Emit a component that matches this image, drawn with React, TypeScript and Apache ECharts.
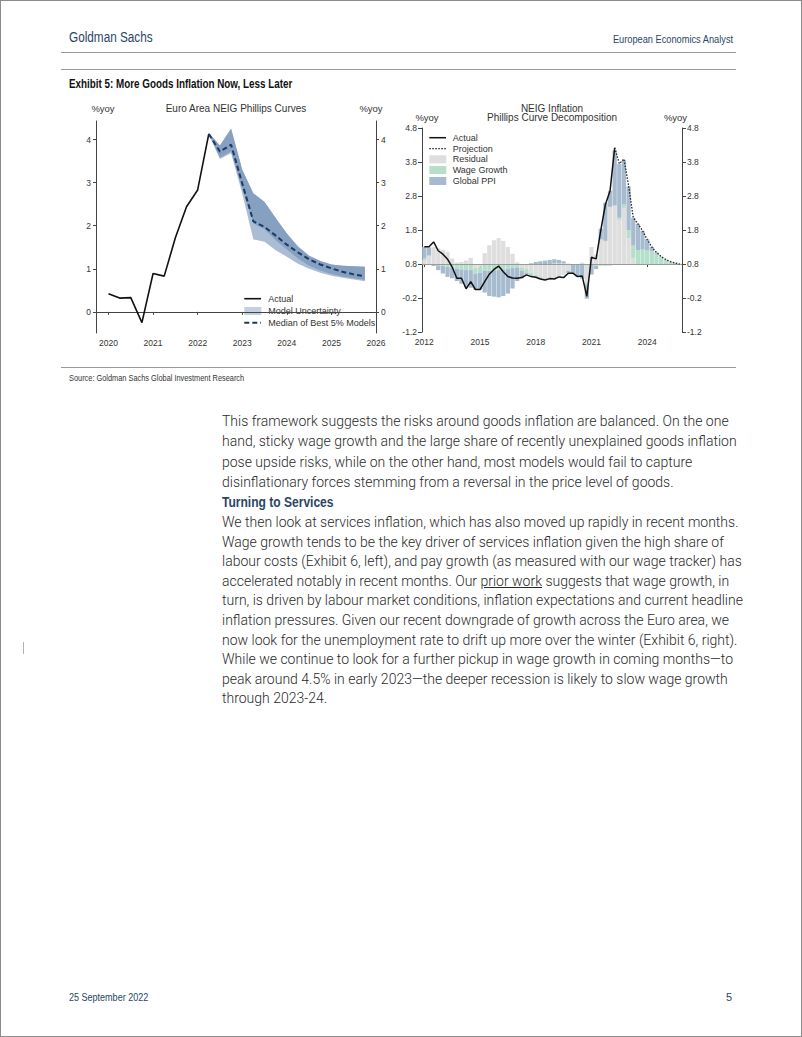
import React, { useEffect, useRef } from "react";
import * as echarts from "echarts";

// ---------------- Left chart: Euro Area NEIG Phillips Curves ----------------
const L_ACT_T = [2020, 2020.25, 2020.5, 2020.75, 2021, 2021.25, 2021.5, 2021.75, 2022, 2022.25];
const L_ACTUAL = [0.42, 0.32, 0.33, -0.25, 0.89, 0.83, 1.72, 2.44, 2.83, 4.13];
const L_PROJ_T = [2022.25, 2022.5, 2022.75, 2023, 2023.25, 2023.5, 2023.75, 2024, 2024.25, 2024.5, 2024.75, 2025, 2025.25, 2025.5, 2025.75];
const L_MEDIAN = [4.13, 3.72, 3.88, 2.98, 2.1, 1.97, 1.77, 1.56, 1.38, 1.22, 1.1, 1.01, 0.93, 0.87, 0.83];
const L_UPPER = [4.15, 3.86, 4.25, 3.3, 2.75, 2.55, 2.18, 1.82, 1.52, 1.3, 1.18, 1.1, 1.07, 1.06, 1.05];
const L_LOWER = [4.12, 3.55, 3.68, 2.75, 1.68, 1.63, 1.43, 1.28, 1.12, 1.0, 0.91, 0.84, 0.79, 0.75, 0.71];
const L_INNER_LOWER = [4.12, 3.58, 3.72, 2.85, 2.05, 1.92, 1.66, 1.45, 1.24, 1.07, 0.96, 0.88, 0.82, 0.78, 0.74];
const L_X_TICKS = [2020, 2021, 2022, 2023, 2024, 2025, 2026];
const L_Y_TICKS = [0, 1, 2, 3, 4];

// ---------------- Right chart: NEIG Inflation decomposition ----------------
const R_YEARS = [2012, 2013, 2014, 2015, 2016, 2017, 2018, 2019, 2020, 2021, 2022, 2023, 2024, 2025];
const R_QTRS = ["Q1", "Q2", "Q3", "Q4"];
const R_LABEL_YEARS = [2012, 2015, 2018, 2021, 2024];
const R_BASELINE = 0.8;
const R_Y_TICKS = [-1.2, -0.2, 0.8, 1.8, 2.8, 3.8, 4.8];
const R_ACTUAL = [
  1.31, 1.31, 1.45, 1.19, 1.09, 0.94, 0.71, 0.38, 0.38, 0.07, 0.28, 0.05,
  0.05, 0.28, 0.5, 0.64, 0.74, 0.57, 0.43, 0.39, 0.38, 0.4, 0.48, 0.43,
  0.41, 0.36, 0.33, 0.37, 0.36, 0.42, 0.4, 0.53, 0.53, 0.43, 0.45, -0.15,
  1.0, 0.95, 1.78, 2.55, 2.95, 4.22,
];
const R_PROJECTION = [4.22, 3.75, 3.89, 3.1, 2.17, 1.98, 1.78, 1.52, 1.3, 1.14, 1.02, 0.93, 0.87, 0.83, 0.8];
const R_RESIDUAL = [
  0.12, 0.22, 0.5, 0.46, 0.42, 0.36, 0.16, 0.04, 0.06, 0.1, 0.18, -0.12,
  -0.08, 0.32, 0.55, 0.7, 0.76, 0.68, 0.5, 0.3, 0.05, -0.1, -0.15, -0.25,
  -0.32, -0.38, -0.42, -0.44, -0.45, -0.4, -0.32, -0.2, -0.02, 0.0, 0.04, -0.55,
  0.5, 0.28, 0.72, 0.68, 1.68, 1.7, 1.3, 1.65, 0.75, 0.18, 0, 0,
  0, 0, 0, 0, 0, 0, 0, 0,
];
const R_WAGE = [
  0.04, 0.03, -0.02, -0.04, -0.06, -0.08, -0.1, -0.14, -0.16, -0.18, -0.18, -0.16,
  -0.18, -0.2, -0.2, -0.18, -0.18, -0.16, -0.15, -0.12, -0.1, -0.1, -0.1, -0.1,
  -0.08, -0.07, -0.05, -0.03, 0.02, 0.02, 0.02, 0.01, 0.0, -0.02, -0.03, -0.05,
  -0.03, -0.05, -0.05, -0.05, -0.05, 0.02, 0.06, 0.1, 0.25, 0.36, 0.4, 0.42,
  0.41, 0.37, 0.3, 0.2, 0.12, 0.06, 0.03, 0.01,
];
const R_PPI = [
  0.34, 0.24, -0.04, -0.14, -0.22, -0.3, -0.32, -0.36, -0.42, -0.5, -0.52, -0.48,
  -0.5, -0.64, -0.74, -0.78, -0.8, -0.78, -0.72, -0.6, -0.4, -0.22, -0.06, 0.02,
  0.06, 0.08, 0.1, 0.12, 0.12, 0.1, 0.06, -0.06, -0.26, -0.36, -0.4, -0.42,
  -0.28, -0.1, 0.32, 1.12, 0.48, 1.62, 1.58, 1.3, 1.28, 0.82, 0.78, 0.56,
  0.32, 0.13, 0.04, 0.02, 0.01, 0.01, 0.0, -0.03,
];

const CHART_FONT = "'Liberation Sans', Arial, sans-serif";
const TXT = "#333";

function buildOption() {
  const categories: string[] = [];
  R_YEARS.forEach((y) => R_QTRS.forEach((q) => categories.push(`${y}${q}`)));
  const projStart = R_ACTUAL.length - 1;
  const actualData = categories.map((_, i) => (i < R_ACTUAL.length ? +(R_ACTUAL[i] - R_BASELINE).toFixed(3) : null));
  const projData = categories.map((_, i) =>
    i >= projStart && i - projStart < R_PROJECTION.length ? +(R_PROJECTION[i - projStart] - R_BASELINE).toFixed(3) : null
  );
  const labelIdx = (i: number) => {
    const c = categories[i];
    return c.endsWith("Q1") && R_LABEL_YEARS.includes(+c.slice(0, 4));
  };

  const bandSeries = (upper: number[], lower: number[], color: string) => ({
    type: "custom",
    xAxisIndex: 0,
    yAxisIndex: 0,
    silent: true,
    z: 1,
    data: [[L_PROJ_T[0], upper[0]]],
    renderItem: (params: any, api: any) => {
      const pts: number[][] = [];
      L_PROJ_T.forEach((t, i) => pts.push(api.coord([t, upper[i]])));
      for (let i = L_PROJ_T.length - 1; i >= 0; i--) pts.push(api.coord([L_PROJ_T[i], lower[i]]));
      return { type: "polygon", shape: { points: pts }, style: { fill: color } };
    },
  });

  const axisLineStyle = { color: "#444", width: 1 };
  const lblStyle = { color: TXT, fontSize: 8.5, fontFamily: CHART_FONT };

  const gtext = (text: string, x: number, y: number, align = "center", size = 10) => ({
    type: "text",
    x,
    y,
    silent: true,
    style: { text, fill: TXT, fontSize: size, fontFamily: CHART_FONT, align, verticalAlign: "middle" },
  });
  const gline = (x1: number, y: number, x2: number, dash: any, color: string, w: number) => ({
    type: "line",
    silent: true,
    shape: { x1, y1: y, x2, y2: y },
    style: { stroke: color, lineWidth: w, lineDash: dash },
  });
  const grect = (x: number, y: number, color: string) => ({
    type: "rect",
    silent: true,
    shape: { x, y: y - 4, width: 17, height: 8 },
    style: { fill: color },
  });

  return {
    animation: false,
    backgroundColor: "#fff",
    grid: [
      { left: 35, top: 25, width: 280, height: 212 },
      { left: 361, top: 32, width: 260, height: 204 },
    ],
    xAxis: [
      {
        type: "value",
        gridIndex: 0,
        min: 2019.72,
        max: 2026,
        splitLine: { show: false },
        axisLine: { show: true, lineStyle: axisLineStyle },
        axisTick: { show: true, length: 3, lineStyle: axisLineStyle, customValues: L_X_TICKS },
        axisLabel: { ...lblStyle, margin: 5, customValues: L_X_TICKS, formatter: (v: number) => `${v}` },
      },
      {
        type: "category",
        gridIndex: 1,
        data: categories,
        boundaryGap: true,
        axisLine: { show: true, lineStyle: axisLineStyle },
        axisTick: { show: true, length: 3, alignWithLabel: true, lineStyle: axisLineStyle, interval: (i: number) => labelIdx(i) },
        axisLabel: { ...lblStyle, margin: 5, interval: (i: number) => labelIdx(i), formatter: (v: string) => v.slice(0, 4) },
        splitLine: { show: false },
      },
    ],
    yAxis: [
      {
        type: "value",
        gridIndex: 0,
        position: "left",
        min: -0.49,
        max: 4.43,
        splitLine: { show: false },
        axisLine: { show: true, lineStyle: axisLineStyle },
        axisTick: { show: true, length: 3, lineStyle: axisLineStyle, customValues: L_Y_TICKS },
        axisLabel: { ...lblStyle, margin: 5, customValues: L_Y_TICKS },
      },
      {
        type: "value",
        gridIndex: 0,
        position: "right",
        min: -0.49,
        max: 4.43,
        splitLine: { show: false },
        axisLine: { show: true, lineStyle: axisLineStyle },
        axisTick: { show: true, length: 3, lineStyle: axisLineStyle, customValues: L_Y_TICKS },
        axisLabel: { ...lblStyle, margin: 5, customValues: L_Y_TICKS },
      },
      {
        type: "value",
        gridIndex: 1,
        position: "left",
        min: R_Y_TICKS[0] - R_BASELINE,
        max: R_Y_TICKS[R_Y_TICKS.length - 1] - R_BASELINE,
        interval: 1,
        splitLine: { show: false },
        axisLine: { show: true, lineStyle: axisLineStyle },
        axisTick: { show: true, length: 4, lineStyle: axisLineStyle },
        axisLabel: { ...lblStyle, margin: 5, formatter: (v: number) => (v + R_BASELINE).toFixed(1) },
      },
      {
        type: "value",
        gridIndex: 1,
        position: "right",
        min: R_Y_TICKS[0] - R_BASELINE,
        max: R_Y_TICKS[R_Y_TICKS.length - 1] - R_BASELINE,
        interval: 1,
        splitLine: { show: false },
        axisLine: { show: true, lineStyle: axisLineStyle },
        axisTick: { show: true, length: 4, lineStyle: axisLineStyle },
        axisLabel: { ...lblStyle, margin: 5, formatter: (v: number) => (v + R_BASELINE).toFixed(1) },
      },
    ],
    series: [
      bandSeries(L_UPPER, L_LOWER, "#abbdd5"),
      bandSeries(L_UPPER, L_INNER_LOWER, "#86a0c2"),
      {
        type: "line",
        name: "Actual",
        xAxisIndex: 0,
        yAxisIndex: 0,
        z: 3,
        showSymbol: false,
        symbol: "none",
        data: L_ACT_T.map((t, i) => [t, L_ACTUAL[i]]),
        lineStyle: { color: "#111", width: 1.6 },
      },
      {
        type: "line",
        name: "Median of Best 5% Models",
        xAxisIndex: 0,
        yAxisIndex: 0,
        z: 4,
        showSymbol: false,
        symbol: "none",
        data: L_PROJ_T.map((t, i) => [t, L_MEDIAN[i]]),
        lineStyle: { color: "#1c3a62", width: 2, type: [5, 3] },
      },
      {
        type: "bar",
        name: "Residual",
        xAxisIndex: 1,
        yAxisIndex: 2,
        stack: "dec",
        barCategoryGap: "8%",
        data: R_RESIDUAL,
        itemStyle: { color: "#dedede" },
        markLine: {
          silent: true,
          symbol: "none",
          label: { show: false },
          lineStyle: { color: "#9a9a9a", width: 1, type: "solid" },
          data: [{ yAxis: 0 }],
          z: 5,
        },
      },
      {
        type: "bar",
        name: "Wage Growth",
        xAxisIndex: 1,
        yAxisIndex: 2,
        stack: "dec",
        barCategoryGap: "8%",
        data: R_WAGE,
        itemStyle: { color: "#b5dfca" },
      },
      {
        type: "bar",
        name: "Global PPI",
        xAxisIndex: 1,
        yAxisIndex: 2,
        stack: "dec",
        barCategoryGap: "8%",
        data: R_PPI,
        itemStyle: { color: "#a7bbcf" },
      },
      {
        type: "line",
        name: "Actual",
        xAxisIndex: 1,
        yAxisIndex: 2,
        z: 6,
        showSymbol: false,
        symbol: "none",
        connectNulls: false,
        data: actualData,
        lineStyle: { color: "#111", width: 1.5 },
      },
      {
        type: "line",
        name: "Projection",
        xAxisIndex: 1,
        yAxisIndex: 2,
        z: 6,
        showSymbol: false,
        symbol: "none",
        data: projData,
        lineStyle: { color: "#222", width: 1.3, type: [1.5, 1.5] },
      },
    ],
    graphic: [
      gtext("Euro Area NEIG Phillips Curves", 175, 12.7),
      gtext("%yoy", 42, 12.7, "center", 9.5),
      gtext("%yoy", 310, 12.7, "center", 9.5),
      gtext("NEIG Inflation", 491, 12.3),
      gtext("Phillips Curve Decomposition", 491, 21.7),
      gtext("%yoy", 366, 21.7, "center", 9.5),
      gtext("%yoy", 614.5, 21.7, "center", 9.5),
      // left legend
      gline(183.3, 202.7, 200, null, "#111", 1.6),
      grect(183.3, 215, "#c3d0e1"),
      gline(183.3, 226.7, 200, [5, 3], "#1c3a62", 2),
      gtext("Actual", 207.3, 202.7, "left", 9),
      gtext("Model Uncertainty", 207.3, 215, "left", 9),
      gtext("Median of Best 5% Models", 207.3, 226.7, "left", 9),
      // right legend
      gline(368.3, 41.7, 385, null, "#111", 1.5),
      gline(368.3, 52.7, 385, [1.5, 1.5], "#222", 1.3),
      grect(368.3, 63.3, "#dedede"),
      grect(368.3, 74, "#b5dfca"),
      grect(368.3, 85, "#a7bbcf"),
      gtext("Actual", 391.7, 41.7, "left", 9),
      gtext("Projection", 391.7, 52.7, "left", 9),
      gtext("Residual", 391.7, 63.3, "left", 9),
      gtext("Wage Growth", 391.7, 74, "left", 9),
      gtext("Global PPI", 391.7, 85, "left", 9),
    ],
  };
}

function Chart() {
  const ref = useRef<HTMLDivElement>(null);
  useEffect(() => {
    if (!ref.current) return;
    const chart = echarts.init(ref.current, undefined, { renderer: "svg" });
    chart.setOption(buildOption() as any);
    return () => chart.dispose();
  }, []);
  return <div ref={ref} style={{ position: "absolute", left: 60, top: 95, width: 680, height: 265 }} />;
}

const NAVY = "#2a4566";
const BODY_FONT = "Roboto, 'Liberation Sans', sans-serif";
const HEAD_FONT = "'Liberation Sans', Arial, sans-serif";

function Txt(props: { x: number; y: number; size: number; children: any; style?: any; right?: boolean; sx?: number }) {
  const h = Math.round(props.size * 1.3);
  const base: any = {
    position: "absolute",
    top: props.y - h / 2,
    lineHeight: `${h}px`,
    fontSize: props.size,
    whiteSpace: "nowrap",
    transform: props.sx ? `scaleX(${props.sx})` : undefined,
    transformOrigin: props.right ? "right center" : "left center",
    ...props.style,
  };
  if (props.right) base.right = 802 - props.x;
  else base.left = props.x;
  return <div style={base}>{props.children}</div>;
}

const PARA1 = [
  "This framework suggests the risks around goods inflation are balanced. On the one",
  "hand, sticky wage growth and the large share of recently unexplained goods inflation",
  "pose upside risks, while on the other hand, most models would fail to capture",
  "disinflationary forces stemming from a reversal in the price level of goods.",
];
const PARA2 = [
  "We then look at services inflation, which has also moved up rapidly in recent months.",
  "Wage growth tends to be the key driver of services inflation given the high share of",
  "labour costs (Exhibit 6, left), and pay growth (as measured with our wage tracker) has",
  "__PRIOR__",
  "turn, is driven by labour market conditions, inflation expectations and current headline",
  "inflation pressures. Given our recent downgrade of growth across the Euro area, we",
  "now look for the unemployment rate to drift up more over the winter (Exhibit 6, right).",
  "While we continue to look for a further pickup in wage growth in coming months\u2014to",
  "peak around 4.5% in early 2023\u2014the deeper recession is likely to slow wage growth",
  "through 2023-24.",
];

export default function App() {
  const bodyStyle = { fontFamily: BODY_FONT, fontWeight: 300, color: "#2a2a2a" };
  return (
    <div
      style={{
        position: "absolute",
        left: 0,
        top: 0,
        width: 802,
        height: 1037,
        boxSizing: "border-box",
        border: "1px solid #8c8c8c",
        background: "#fff",
        overflow: "hidden",
      }}
    >
      <Txt x={68} y={36} size={14} sx={0.84} style={{ fontFamily: HEAD_FONT, color: NAVY }}>
        Goldman Sachs
      </Txt>
      <Txt x={734} y={38} size={11} sx={0.84} right style={{ fontFamily: HEAD_FONT, color: NAVY }}>
        European Economics Analyst
      </Txt>
      <div style={{ position: "absolute", left: 60, top: 51, width: 675, height: 1, background: "#9a9a9a" }} />
      <div style={{ position: "absolute", left: 60, top: 68, width: 675, height: 1, background: "#9a9a9a" }} />
      <Txt x={68} y={83} size={12} sx={0.82} style={{ fontFamily: HEAD_FONT, fontWeight: 700, color: "#111" }}>
        Exhibit 5: More Goods Inflation Now, Less Later
      </Txt>
      <Chart />
      <div style={{ position: "absolute", left: 60, top: 366, width: 675, height: 1, background: "#9a9a9a" }} />
      <Txt x={68} y={377} size={9} sx={0.82} style={{ fontFamily: HEAD_FONT, color: "#333" }}>
        Source: Goldman Sachs Global Investment Research
      </Txt>
      {PARA1.map((l, i) => (
        <Txt key={"p1" + i} x={221} y={420 + i * 20.3} size={14} style={bodyStyle}>
          {l}
        </Txt>
      ))}
      <Txt x={221} y={501} size={14} sx={0.86} style={{ fontFamily: HEAD_FONT, fontWeight: 700, color: NAVY }}>
        Turning to Services
      </Txt>
      {PARA2.map((l, i) => (
        <Txt key={"p2" + i} x={221} y={521 + i * 19.6} size={14} style={bodyStyle}>
          {l === "__PRIOR__" ? (
            <span>
              accelerated notably in recent months. Our <span style={{ textDecoration: "underline" }}>prior work</span>{" "}
              suggests that wage growth, in
            </span>
          ) : (
            l
          )}
        </Txt>
      ))}
      <div style={{ position: "absolute", left: 22, top: 641, width: 1, height: 12, background: "#b5b5b5" }} />
      <Txt x={68} y={996} size={11} sx={0.82} style={{ fontFamily: HEAD_FONT, color: NAVY }}>
        25 September 2022
      </Txt>
      <Txt x={733} y={996} size={11} right style={{ fontFamily: HEAD_FONT, color: NAVY }}>
        5
      </Txt>
    </div>
  );
}
